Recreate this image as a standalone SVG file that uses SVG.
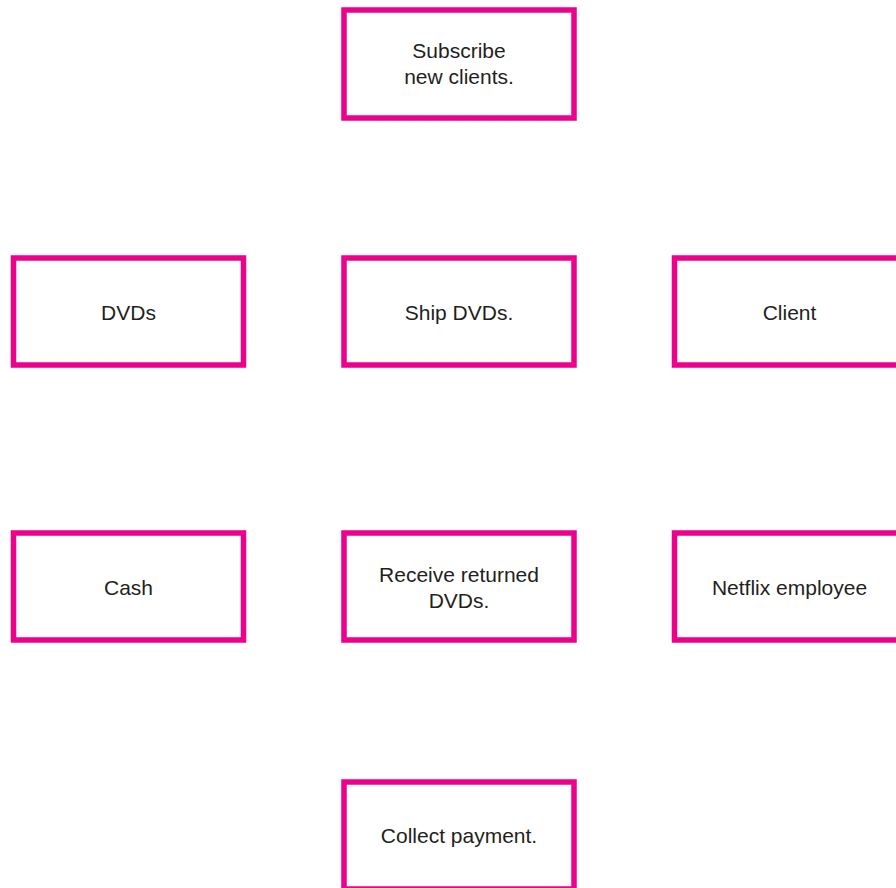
<svg xmlns="http://www.w3.org/2000/svg" width="896" height="888" viewBox="0 0 896 888">
  <style>
    .box { fill: #ffffff; stroke: #ec008c; stroke-width: 5.5; }
    .label { font-family: "Liberation Sans", Arial, sans-serif; font-size: 21px; fill: #231f20; text-anchor: middle; }
  </style>
  <rect width="896" height="888" fill="#ffffff"/>
  <g id="connectors"/>
  <g id="subscribe">
    <rect class="box" x="344" y="10" width="230" height="108"/>
    <text class="label" x="459" y="58">Subscribe</text>
    <text class="label" x="459" y="84">new clients.</text>
  </g>
  <g id="dvds">
    <rect class="box" x="13.5" y="258" width="230" height="107"/>
    <text class="label" x="128.5" y="320">DVDs</text>
  </g>
  <g id="ship">
    <rect class="box" x="344" y="258" width="230" height="107"/>
    <text class="label" x="459" y="320">Ship DVDs.</text>
  </g>
  <g id="client">
    <rect class="box" x="674.5" y="258" width="230" height="107"/>
    <text class="label" x="789.5" y="320">Client</text>
  </g>
  <g id="cash">
    <rect class="box" x="13.5" y="533" width="230" height="107"/>
    <text class="label" x="128.5" y="595">Cash</text>
  </g>
  <g id="receive">
    <rect class="box" x="344" y="533" width="230" height="107"/>
    <text class="label" x="459" y="582">Receive returned</text>
    <text class="label" x="459" y="608">DVDs.</text>
  </g>
  <g id="employee">
    <rect class="box" x="674.5" y="533" width="230" height="107"/>
    <text class="label" x="789.5" y="595">Netflix employee</text>
  </g>
  <g id="collect">
    <rect class="box" x="344" y="782" width="230" height="107"/>
    <text class="label" x="459" y="843">Collect payment.</text>
  </g>
</svg>
